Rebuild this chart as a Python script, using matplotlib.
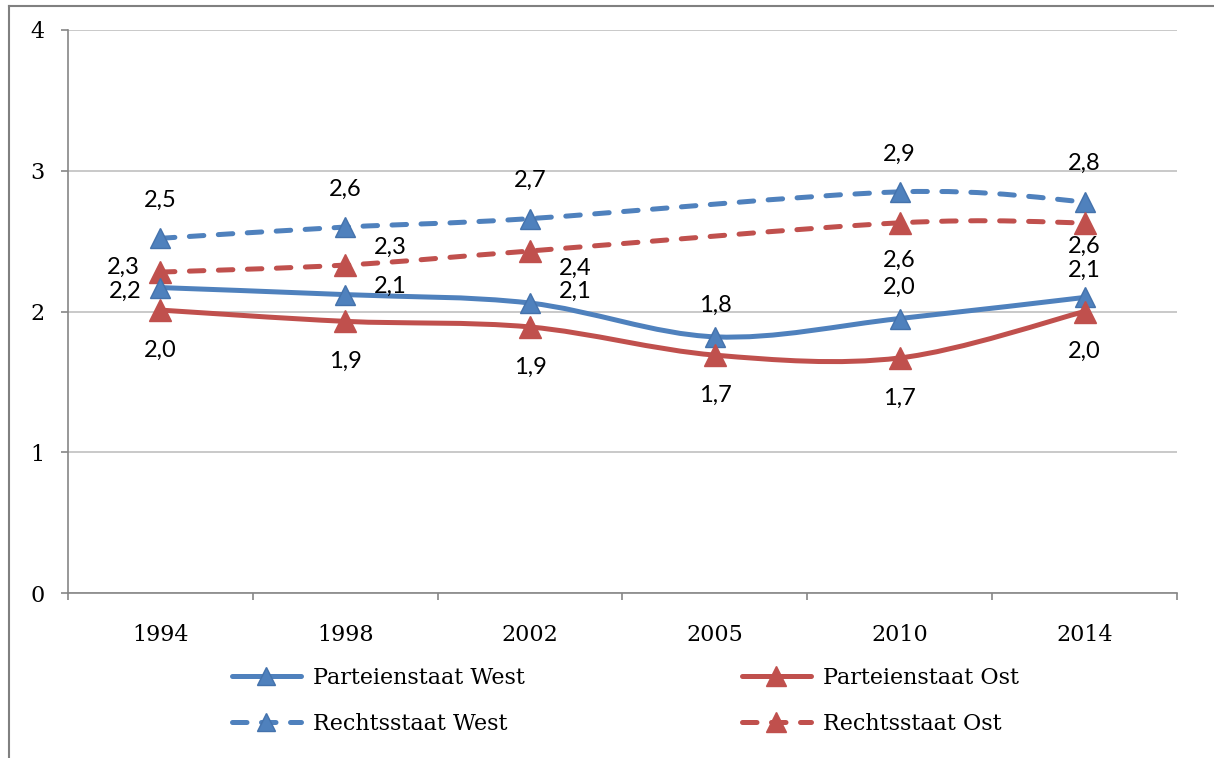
import matplotlib
matplotlib.use("Agg")
import matplotlib.pyplot as plt
import numpy as np
from matplotlib.path import Path
from matplotlib.patches import PathPatch
from matplotlib.lines import Line2D

years = ["1994", "1998", "2002", "2005", "2010", "2014"]
yticks = [0, 1, 2, 3, 4]

partei_west = [2.17, 2.12, 2.06, 1.82, 1.95, 2.10]
partei_west_lbl = ["2,2", "2,1", "2,1", "1,8", "2,0", "2,1"]
partei_ost = [2.01, 1.93, 1.89, 1.69, 1.67, 2.00]
partei_ost_lbl = ["2,0", "1,9", "1,9", "1,7", "1,7", "2,0"]
rechts_west = [2.52, 2.60, 2.66, None, 2.85, 2.78]
rechts_west_lbl = ["2,5", "2,6", "2,7", None, "2,9", "2,8"]
rechts_ost = [2.28, 2.33, 2.43, None, 2.63, 2.63]
rechts_ost_lbl = ["2,3", "2,3", "2,4", None, "2,6", "2,6"]

BLUE = "#4F81BD"
BLUE_EDGE = "#4472AC"
RED = "#C0504D"
LABEL_FONT = "Lato"
SERIF = "DejaVu Serif"

W, H = 1214, 758
fig = plt.figure(figsize=(W / 100, H / 100), dpi=100)
ax = fig.add_axes([68 / W, 1 - 593 / H, (1177 - 68) / W, (593 - 30) / H])


def smooth_path(xs, ys):
    pts = np.column_stack([xs, ys]).astype(float)
    n = len(pts)
    verts = [pts[0]]
    codes = [Path.MOVETO]
    for i in range(n - 1):
        p0 = pts[i - 1] if i > 0 else pts[i]
        p1 = pts[i]
        p2 = pts[i + 1]
        p3 = pts[i + 2] if i + 2 < n else pts[i + 1]
        c1 = p1 + (p2 - p0) / 6.0
        c2 = p2 - (p3 - p1) / 6.0
        verts += [c1, c2, p2]
        codes += [Path.CURVE4] * 3
    return Path(verts, codes)


def draw_series(vals, color, edge, ms, dashed):
    xs = [i for i, v in enumerate(vals) if v is not None]
    ys = [v for v in vals if v is not None]
    ls = (0, (2.9, 2.9)) if dashed else "-"
    patch = PathPatch(smooth_path(xs, ys), fill=False, edgecolor=color, lw=3.6,
                      linestyle=ls, capstyle="round", joinstyle="round", zorder=3)
    ax.add_patch(patch)
    ax.plot(xs, ys, linestyle="none", marker="^", ms=ms, mfc=color, mec=edge,
            mew=1.0, zorder=4)


def draw_labels(vals, labels, offsets):
    for i, (v, t) in enumerate(zip(vals, labels)):
        if v is None:
            continue
        dx, dy = offsets[i]
        ax.annotate(t, (i, v), xytext=(dx, dy), textcoords="offset pixels",
                    ha="center", va="center", fontsize=17, family=LABEL_FONT,
                    color="black", zorder=5)


draw_series(rechts_west, BLUE, BLUE_EDGE, 14, True)
draw_series(rechts_ost, RED, RED, 16, True)
draw_series(partei_west, BLUE, BLUE_EDGE, 14, False)
draw_series(partei_ost, RED, RED, 16, False)

draw_labels(partei_west, partei_west_lbl,
            [(-35, -4), (45, 8), (45, 12), (0, 31), (0, 31), (0, 27)])
draw_labels(partei_ost, partei_ost_lbl, [(0, -40)] * 6)
draw_labels(rechts_west, rechts_west_lbl, [(0, 38)] * 6)
draw_labels(rechts_ost, rechts_ost_lbl,
            [(-37, 5), (45, 18), (45, -17), (0, 0), (0, -38), (0, -24)])

ax.set_xlim(-0.5, len(years) - 0.5)
ax.set_ylim(0, 4)
ax.set_yticks(yticks)
ax.set_yticklabels([str(t) for t in yticks], family=SERIF, fontsize=16)
ax.set_xticks(range(len(years)))
ax.set_xticklabels(years, family=SERIF, fontsize=16)
ax.set_xticks(np.arange(-0.5, len(years), 1.0), minor=True)
ax.tick_params(axis="x", which="major", length=0, pad=22)
ax.tick_params(axis="x", which="minor", length=5, color="#868686", width=1.2)
ax.tick_params(axis="y", which="major", length=5, color="#868686", width=1.2, pad=12)

ax.grid(axis="y", color="#C0C0C0", lw=1.2)
ax.set_axisbelow(True)
for s in ["top", "right"]:
    ax.spines[s].set_visible(False)
for s in ["left", "bottom"]:
    ax.spines[s].set_color("#868686")
    ax.spines[s].set_linewidth(1.2)

# outer frame
fig.add_artist(Line2D([9 / W, 1.0], [1 - 6 / H, 1 - 6 / H], color="#808080", lw=1.5,
                      transform=fig.transFigure))
fig.add_artist(Line2D([9 / W, 9 / W], [1 - 6 / H, 0], color="#808080", lw=1.5,
                      transform=fig.transFigure))


def handle(color, edge, ms, dashed):
    return Line2D([], [], color=color, lw=3.6,
                  linestyle=(0, (2.9, 2.9)) if dashed else "-",
                  dash_capstyle="round", solid_capstyle="round",
                  marker="^", ms=ms, mfc=color, mec=edge)


leg_kw = dict(frameon=False, prop={"family": SERIF, "size": 16}, handlelength=3.1,
              handletextpad=0.55, labelspacing=1.1, borderpad=0, borderaxespad=0,
              loc="center left")
l1 = fig.legend([handle(BLUE, BLUE_EDGE, 13, False), handle(BLUE, BLUE_EDGE, 13, True)],
                ["Parteienstaat West", "Rechtsstaat West"],
                bbox_to_anchor=(232 / W, 1 - 701 / H), **leg_kw)
l2 = fig.legend([handle(RED, RED, 15, False), handle(RED, RED, 15, True)],
                ["Parteienstaat Ost", "Rechtsstaat Ost"],
                bbox_to_anchor=(742 / W, 1 - 701 / H), **leg_kw)

fig.savefig("out.png", dpi=100)
